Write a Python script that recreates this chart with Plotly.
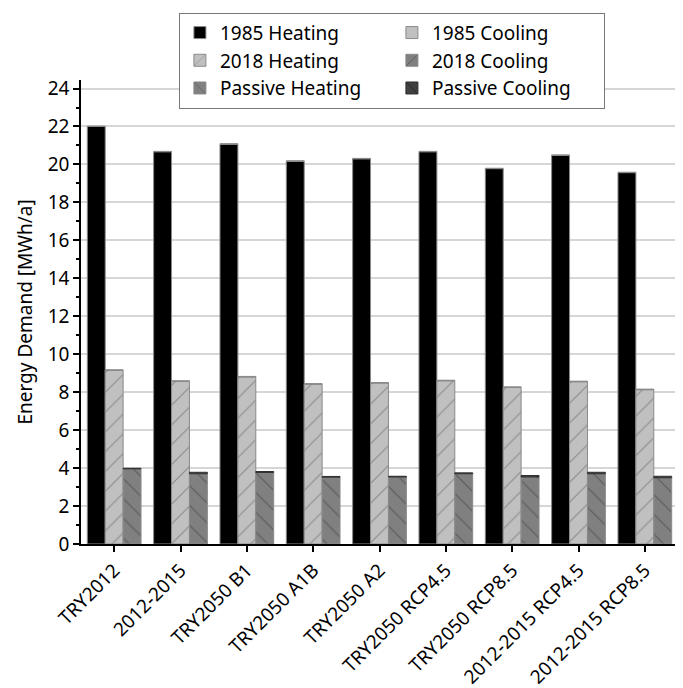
import plotly.graph_objects as go

categories = ["TRY2012", "2012-2015", "TRY2050 B1", "TRY2050 A1B", "TRY2050 A2",
              "TRY2050 RCP4.5", "TRY2050 RCP8.5", "2012-2015 RCP4.5", "2012-2015 RCP8.5"]
heating_1985 = [22.0, 20.67, 21.07, 20.17, 20.3, 20.67, 19.78, 20.48, 19.57]
cooling_1985 = [0.02, 0.02, 0.02, 0.02, 0.02, 0.02, 0.02, 0.02, 0.02]
heating_2018 = [9.15, 8.57, 8.8, 8.42, 8.48, 8.6, 8.25, 8.55, 8.13]
cooling_2018 = [0.03, 0.03, 0.03, 0.03, 0.03, 0.03, 0.03, 0.03, 0.03]
heating_passive = [3.96, 3.70, 3.77, 3.52, 3.53, 3.70, 3.53, 3.70, 3.49]
cooling_passive = [0.03, 0.08, 0.05, 0.04, 0.04, 0.05, 0.08, 0.08, 0.08]
y_ticks = list(range(0, 25, 2))

FONT = "Noto Sans"
EDGE = dict(color="#8a8a8a", width=1)

def pat(shape, bg, fg):
    return dict(shape=shape, bgcolor=bg, fgcolor=fg, size=14, solidity=0.08, fillmode="replace")

fig = go.Figure()
fig.add_trace(go.Bar(name="1985 Heating", x=categories, y=heating_1985, offsetgroup="a",
                     marker=dict(color="#000000", line=EDGE)))
fig.add_trace(go.Bar(name="1985 Cooling", x=categories, y=cooling_1985, base=heating_1985,
                     offsetgroup="a", marker=dict(color="#c0c0c0", line=EDGE)))
fig.add_trace(go.Bar(name="2018 Heating", x=categories, y=heating_2018, offsetgroup="b",
                     marker=dict(color="#c0c0c0", line=EDGE,
                                 pattern=pat("/", "#c0c0c0", "#8c8c8c"))))
fig.add_trace(go.Bar(name="2018 Cooling", x=categories, y=cooling_2018, base=heating_2018,
                     offsetgroup="b", marker=dict(color="#808080", line=EDGE,
                                                  pattern=pat("/", "#808080", "#404040"))))
fig.add_trace(go.Bar(name="Passive Heating", x=categories, y=heating_passive, offsetgroup="c",
                     marker=dict(color="#808080", line=EDGE,
                                 pattern=pat("\\", "#808080", "#5a5a5a"))))
fig.add_trace(go.Bar(name="Passive Cooling", x=categories, y=cooling_passive, base=heating_passive,
                     offsetgroup="c", marker=dict(color="#404040", line=dict(color="#303030", width=1),
                                                  pattern=pat("\\", "#404040", "#1a1a1a"))))

fig.update_layout(
    width=675, height=680,
    margin=dict(l=73, r=5, t=64, b=144),
    paper_bgcolor="white", plot_bgcolor="white",
    barmode="group", bargap=0.19, bargroupgap=0.0,
    font=dict(family=FONT, size=19, color="#000000"),
    showlegend=True,
    legend=dict(orientation="h", x=0.164, y=1.145, xanchor="left", yanchor="top",
                entrywidth=167, bgcolor="white", bordercolor="#777777", borderwidth=1,
                font=dict(family=FONT, size=19), traceorder="normal"),
)
fig.update_xaxes(type="category", range=[-0.5, 8.5], tickangle=-45,
                 showline=True, linecolor="#000000", linewidth=1.5,
                 ticks="outside", ticklen=6, tickcolor="#000000", tickwidth=1.5,
                 showgrid=False, tickfont=dict(family=FONT, size=19), automargin=False)
fig.update_yaxes(range=[0, 24.45], tickvals=y_ticks,
                 title=dict(text="Energy Demand [MWh/a]", font=dict(family=FONT, size=19), standoff=10),
                 showline=True, linecolor="#000000", linewidth=1.5,
                 ticks="outside", ticklen=6, tickcolor="#000000", tickwidth=1.5,
                 minor=dict(dtick=1, ticks="outside", ticklen=3, tickcolor="#000000", showgrid=False),
                 showgrid=True, gridcolor="#d6d6d6", gridwidth=1.5,
                 zeroline=False, tickfont=dict(family=FONT, size=19), automargin=False)

fig.write_html("out.html")
